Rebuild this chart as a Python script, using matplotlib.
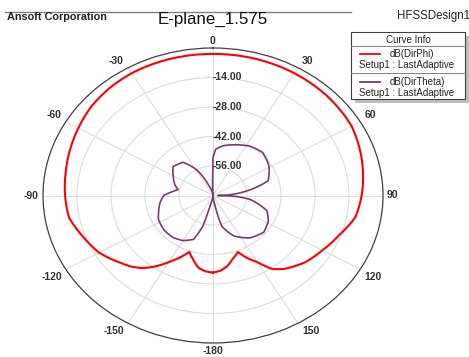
import numpy as np
import matplotlib.pyplot as plt
from matplotlib.patches import Rectangle
from matplotlib.lines import Line2D

plt.rcParams['font.family'] = ['Liberation Sans', 'DejaVu Sans']

W, H = 469, 357

# dB(DirPhi)
phi_deg = [-180, -175, -170, -165, -160, -155, -150, -145, -140, -135, -130, -120,
           -110, -100, -90, -80, -70, -60, -50, -40, -30, -15, 0, 15, 30, 45, 60,
           70, 80, 90, 100, 110, 120, 130, 140, 145, 150, 155, 159, 165, 170, 175, 180]
phi_db = [-33.4, -33.9, -35.2, -38.5, -41.5, -37.5, -33.5, -29.0, -25.0, -22.3, -20.3, -15.8,
          -13.0, -9.8, -9.1, -8.4, -7.3, -6.0, -4.5, -3.6, -3.0, -2.8, -2.8, -2.8, -3.0, -3.4, -4.1,
          -5.7, -7.3, -8.8, -10.5, -14.8, -18.0, -20.6, -24.5, -27.4, -33.5, -37.5, -41.3, -38.8, -36.0, -34.2, -33.4]

# dB(DirTheta)
theta_deg = [-180, -170, -166, -164, -159, -150, -141, -130, -117, -108, -99, -90,
             -85, -79, -72, -61, -50, -38, -29, -20.5, -10, -3, -1, 0, 3, 10, 20, 33,
             45, 59, 73, 80, 88, 90, 93, 97, 108, 118, 130, 143, 156, 166, 170, 175, 180]
theta_db = [-70, -68, -64, -55, -47.7, -45.3, -44.2, -44.0, -44.8, -46.5, -47.9, -49.7,
            -52.5, -55.4, -53.5, -51.3, -48.6, -50.0, -56.0, -64.5, -68.5, -70, -62, -52, -48, -46, -44.4, -42.1,
            -41.1, -43.1, -46.3, -54.5, -64, -68, -60, -54.6, -46.7, -44.2, -42.8, -44.8, -49.0, -55.0, -64.9, -69, -70]

ring_db = [-56, -42, -28, -14]
ring_labels = ['-56.00', '-42.00', '-28.00', '-14.00']
angle_ticks = list(range(0, 360, 30))
angle_labels = ['0', '30', '60', '90', '120', '150', '-180', '-150', '-120', '-90', '-60', '-30']


def fx(x):
    return x / W


def fy(y):
    return 1 - y / H


fig = plt.figure(figsize=(W / 100, H / 100), dpi=100)

ax = fig.add_axes([fx(43), fy(343), 340 / W, 295 / H], projection='polar')
ax.set_aspect('auto')
ax.set_theta_zero_location('N')
ax.set_theta_direction(-1)
ax.set_ylim(-70, 0)

ax.set_xticks(np.deg2rad(angle_ticks))
ax.set_xticklabels([])
ax.set_xticks(np.deg2rad([a for a in range(0, 360, 5) if a % 30]), minor=True)
ax.tick_params(axis='x', which='major', direction='in', length=5, width=0.8, color='#404040')
ax.tick_params(axis='x', which='minor', direction='in', length=2.5, width=0.6, color='#404040')
ax.set_yticks(ring_db)
ax.set_yticklabels([])
ax.grid(True, color='#DCDCDC', lw=0.8)
ax.spines['polar'].set_color('#404040')
ax.spines['polar'].set_linewidth(0.9)

# angle labels just outside the rim
for a, lab in zip(angle_ticks, angle_labels):
    s, c = np.sin(np.deg2rad(a)), np.cos(np.deg2rad(a))
    ha = 'left' if s > 0.1 else ('right' if s < -0.1 else 'center')
    va = 'bottom' if c > 0.1 else ('top' if c < -0.1 else 'center')
    dx = 4 * np.sign(s) if abs(s) > 0.1 else 0
    dy = 2 if c > 0.1 else (-3 if c < -0.1 else 0)
    ax.annotate(lab, xy=(np.deg2rad(a), 0), xytext=(dx, dy), textcoords='offset pixels',
                ha=ha, va=va, fontsize=7.5, fontweight='bold', color='#333333',
                annotation_clip=False)

for r, lab in zip(ring_db, ring_labels):
    ax.text(0, r, lab, ha='left', va='center', fontsize=7.5, fontweight='bold',
            color='#333333', zorder=5)

curves = ax.plot(np.deg2rad(theta_deg), theta_db, color='#7B3B6B', lw=1.2, zorder=3)
curves += ax.plot(np.deg2rad(phi_deg), phi_db, color='#FF0000', lw=1.5, zorder=3)
for ln in curves:
    # draw segments along the polar grid instead of straight chords
    ln.get_path()._interpolation_steps = 30

# header
fig.add_artist(Line2D([fx(5), fx(351)], [fy(11.5), fy(11.5)], color='#808080', lw=1))
fig.text(fx(7), fy(17.5), 'Ansoft Corporation', fontsize=7.8, fontweight='bold',
         color='#222222', va='center', ha='left')
fig.text(fx(213), fy(19), 'E-plane_1.575', fontsize=12.2, color='#111111',
         va='center', ha='center')
fig.text(fx(397), fy(16), 'HFSSDesign1', fontsize=8.3, color='#222222',
         va='center', ha='left')

# curve info box
fig.add_artist(Rectangle((fx(355), fy(103)), 114 / W, 67 / H, transform=fig.transFigure,
                         facecolor='#BFBFBF', edgecolor='none'))
fig.add_artist(Rectangle((fx(351), fy(99)), 114 / W, 67 / H, transform=fig.transFigure,
                         facecolor='white', edgecolor='#404040', lw=0.8))
for yy in (46, 73.3):
    fig.add_artist(Line2D([fx(351), fx(465)], [fy(yy), fy(yy)], color='#808080', lw=0.7))
fig.text(fx(408), fy(40), 'Curve Info', fontsize=7, ha='center', va='center', color='#222222')

entries = [('dB(DirPhi)', '#FF0000', 54), ('dB(DirTheta)', '#7B3B6B', 82)]
for name, col, yy in entries:
    fig.add_artist(Line2D([fx(360), fx(380)], [fy(yy), fy(yy)], color=col, lw=1.3))
    fig.text(fx(390), fy(yy), name, fontsize=7, ha='left', va='center', color='#222222')
    fig.text(fx(359), fy(yy + 11.5), 'Setup1 : LastAdaptive', fontsize=7, ha='left',
             va='center', color='#222222')

fig.savefig('out.png', dpi=100)
